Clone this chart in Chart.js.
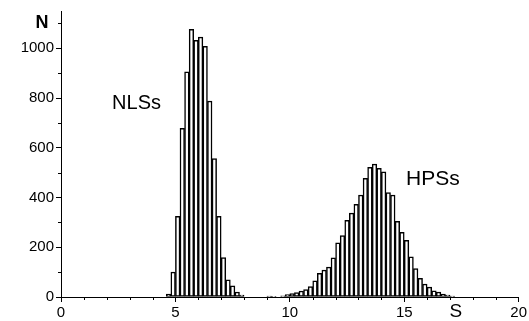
<!DOCTYPE html>
<html>
<head>
<meta charset="utf-8">
<script src="https://cdn.jsdelivr.net/npm/chart.js@4/dist/chart.umd.min.js"></script>
<style>
html,body{margin:0;padding:0;background:#fff;}
#wrap{width:529px;height:321px;}
</style>
</head>
<body>
<div id="wrap"><canvas id="c" width="529" height="321"></canvas></div>
<script>
// Bin centres (S) and counts (N), bin width 0.2
const nlsS = [4.7,4.9,5.1,5.3,5.5,5.7,5.9,6.1,6.3,6.5,6.7,6.9,7.1,7.3,7.5,7.7,7.9];
const nlsN = [12,100,324,678,905,1076,1032,1045,1008,788,557,324,159,69,45,20,8];
const hpsS = [9.1,9.3,9.7,9.9,10.1,10.3,10.5,10.7,10.9,11.1,11.3,11.5,11.7,11.9,12.1,12.3,12.5,12.7,12.9,13.1,13.3,13.5,13.7,13.9,14.1,14.3,14.5,14.7,14.9,15.1,15.3,15.5,15.7,15.9,16.1,16.3,16.5,16.7,16.9,17.1];
const hpsN = [4,3,5,10,14,18,24,30,42,65,95,108,120,158,218,247,308,337,373,410,477,521,534,517,503,420,410,304,260,228,162,114,75,52,40,25,20,12,8,4];
const xMajor = [0,5,10,15,20];
const yMajor = [0,200,400,600,800,1000];
const labels = [
  {text:'NLSs', x:3.3, y:780, size:20},
  {text:'HPSs', x:16.25, y:474, size:21}
];

const toXY = (xs, ys) => xs.map((v,i)=>({x:v, y:ys[i]}));

const FONT = '"Liberation Sans", Arial, sans-serif';

const extras = {
  id:'extras',
  afterDraw(chart){
    const ctx = chart.ctx, xs = chart.scales.x, ys = chart.scales.y;
    const ca = chart.chartArea;
    ctx.save();
    ctx.strokeStyle = '#000'; ctx.lineWidth = 1;
    ctx.beginPath();
    for(let v=1; v<20; v++){ if(v%5===0) continue;
      const px = Math.round(xs.getPixelForValue(v))+0.5;
      ctx.moveTo(px, ca.bottom); ctx.lineTo(px, ca.bottom+3);
    }
    for(let v=100; v<=1100; v+=200){
      const py = Math.round(ys.getPixelForValue(v))+0.5;
      ctx.moveTo(ca.left-3, py); ctx.lineTo(ca.left, py);
    }
    ctx.stroke();
    ctx.fillStyle = '#000';
    ctx.textAlign='center'; ctx.textBaseline='middle';
    labels.forEach(l=>{
      ctx.font = l.size+'px '+FONT;
      ctx.fillText(l.text, xs.getPixelForValue(l.x), ys.getPixelForValue(l.y));
    });
    // axis titles
    ctx.font = 'bold 18px '+FONT;
    ctx.fillText('N', ca.left-19, ca.top+12);
    ctx.font = '19px '+FONT;
    ctx.fillText('S', xs.getPixelForValue(17.25), ca.bottom+15);
    ctx.restore();
  }
};

const barStyle = {backgroundColor:'#fff', borderColor:'#000', borderWidth:1.5, borderSkipped:false, grouped:false, barPercentage:1, categoryPercentage:1};

new Chart(document.getElementById('c'), {
  type:'bar',
  data:{
    datasets:[
      Object.assign({data: toXY(nlsS,nlsN)}, barStyle),
      Object.assign({data: toXY(hpsS,hpsN)}, barStyle)
    ]
  },
  options:{
    responsive:false, animation:false,
    layout:{padding:{left:0,right:10,top:10,bottom:0}},
    plugins:{legend:{display:false}, tooltip:{enabled:false}},
    scales:{
      x:{
        type:'linear', min:0, max:20, offset:false,
        afterBuildTicks(s){ s.ticks = xMajor.map(v=>({value:v})); },
        afterFit(s){ s.height = 24; },
        grid:{display:true, drawOnChartArea:false, offset:false, tickLength:5, color:'#000'},
        border:{display:true, color:'#000', width:1},
        ticks:{color:'#000', padding:2, maxRotation:0, font:{family:FONT, size:15}, callback:v=>String(v)}
      },
      y:{
        min:0, max:1150,
        afterBuildTicks(s){ s.ticks = yMajor.map(v=>({value:v})); },
        afterFit(s){ s.width = 61; },
        grid:{display:true, drawOnChartArea:false, tickLength:5, color:'#000'},
        border:{display:true, color:'#000', width:1},
        ticks:{color:'#000', padding:2, font:{family:FONT, size:15}, callback:v=>String(v)}
      }
    }
  },
  plugins:[extras]
});
</script>
</body>
</html>
